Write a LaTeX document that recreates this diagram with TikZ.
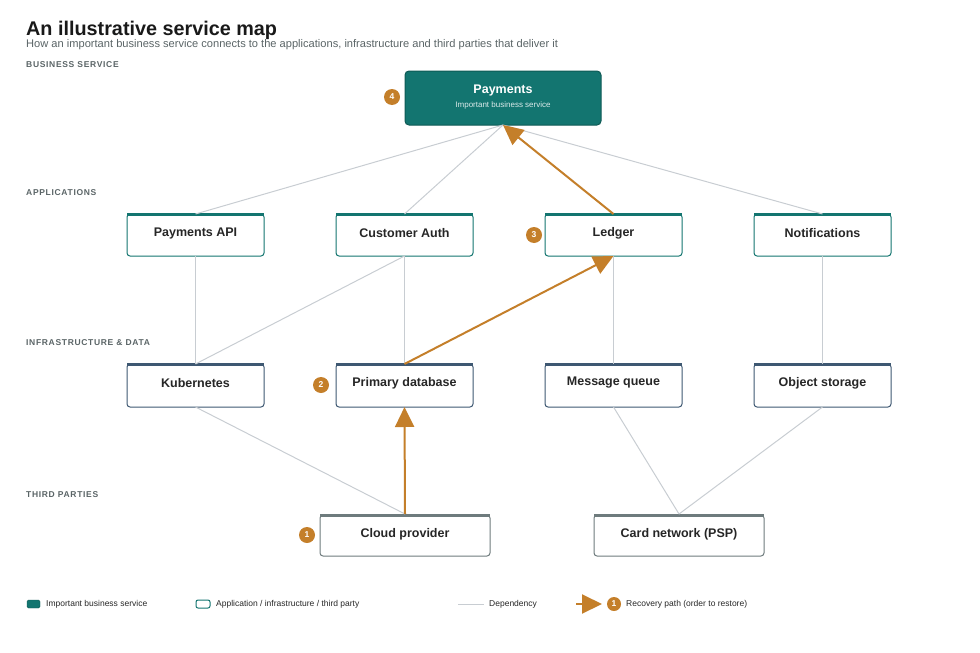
\documentclass[tikz,border=0pt]{standalone}
\usepackage{fontspec}
\setmainfont{Liberation Sans}
\usetikzlibrary{arrows.meta}
\definecolor{teal}{HTML}{137570}
\definecolor{tealdk}{HTML}{0E5A55}
\definecolor{slate}{HTML}{3E5872}
\definecolor{grayb}{HTML}{6E7B7D}
\definecolor{orng}{HTML}{C47F2A}
\definecolor{dep}{HTML}{C8CDD2}
\definecolor{lab}{HTML}{5A6466}
\begin{document}
\begin{tikzpicture}[x=1pt,y=-1pt,
 box/.style={draw=#1,line width=1pt,rounded corners=3pt,fill=white},
 bar/.style={draw=#1,line width=3pt},
 ttl/.style={font=\bfseries\fontsize{12.5}{14}\selectfont,text=black!85},
 sec/.style={anchor=west,inner sep=0pt,font=\bfseries\addfontfeature{LetterSpace=8}\fontsize{8.5}{10}\selectfont,text=lab},
 dep/.style={draw=dep,line width=1pt},
 rec/.style={draw=orng,line width=2pt,-{Triangle[length=20pt,width=19pt]}},
 badge/.style={circle,fill=orng,text=white,inner sep=0pt,minimum size=16pt,font=\bfseries\fontsize{8.5}{9}\selectfont},
 leg/.style={anchor=west,inner sep=0pt,font=\fontsize{8.5}{10}\selectfont,text=black!85}]
\useasboundingbox (0,0) rectangle (980,653);
\node[anchor=west,inner sep=0pt,font=\bfseries\fontsize{19.8}{22}\selectfont,text=black!90] (title) at (26,30) {An illustrative service map};
\node[anchor=west,inner sep=0pt,font=\fontsize{11.1}{13}\selectfont,text=lab] (sub) at (26,45) {How an important business service connects to the applications, infrastructure and third parties that deliver it};
\node[sec] (s1) at (26,65) {BUSINESS SERVICE};
\node[sec] (s2) at (26,193) {APPLICATIONS};
\node[sec] (s3) at (26,343) {INFRASTRUCTURE \& DATA};
\node[sec] (s4) at (26,495) {THIRD PARTIES};
% business
\filldraw[fill=teal,draw=tealdk,line width=1pt,rounded corners=4pt] (405,71) rectangle (601,125);
\node[font=\bfseries\fontsize{12.5}{14}\selectfont,text=white] (pay) at (503,90) {Payments};
\node[font=\fontsize{8}{9}\selectfont,text=white!85!teal] (payl) at (503,105) {Important business service};
\coordinate (payb) at (503,125);
% boxes
\foreach \n/\x/\t in {api/195.5/Payments API,auth/404.5/Customer Auth,led/613.5/Ledger,not/822.5/Notifications}{
 \draw[box=teal] (\x-68.5,214) rectangle (\x+68.5,256);
 \draw[bar=teal] (\x-68.5,214.5) -- (\x+68.5,214.5);
 \node[ttl] (\n) at (\x,233) {\t};
 \coordinate (\n t) at (\x,214); \coordinate (\n b) at (\x,256);}
\foreach \n/\x/\t in {kub/195.5/Kubernetes,db/404.5/Primary database,mq/613.5/Message queue,obj/822.5/Object storage}{
 \draw[box=slate] (\x-68.5,364) rectangle (\x+68.5,407);
 \draw[bar=slate] (\x-68.5,364.5) -- (\x+68.5,364.5);
 \node[ttl] (\n) at (\x,383) {\t};
 \coordinate (\n t) at (\x,364); \coordinate (\n b) at (\x,407);}
\foreach \n/\x/\t in {cld/405/Cloud provider,card/679/Card network (PSP)}{
 \draw[box=grayb] (\x-85,515) rectangle (\x+85,556);
 \draw[bar=grayb] (\x-85,515.5) -- (\x+85,515.5);
 \node[ttl] (\n) at (\x,534) {\t};
 \coordinate (\n t) at (\x,514); \coordinate (\n b) at (\x,556);}
% dependencies
\draw[dep] (payb) -- (apit); \draw[dep] (payb) -- (autht); \draw[dep] (payb) -- (nott);
\draw[dep] (apib) -- (kubt); \draw[dep] (authb) -- (kubt); \draw[dep] (authb) -- (dbt);
\draw[dep] (ledb) -- (mqt); \draw[dep] (notb) -- (objt);
\draw[dep] (kubb) -- (cldt); \draw[dep] (mqb) -- (cardt); \draw[dep] (objb) -- (cardt);
% recovery
\draw[rec] (cldt) -- (dbb);
\draw[rec] (dbt) -- (ledb);
\draw[rec] (ledt) -- (payb);
\node[badge] (b4) at (392,97) {4};
\node[badge] (b3) at (534,235) {3};
\node[badge] (b2) at (321,385) {2};
\node[badge] (b1) at (307,535) {1};
% legend
\filldraw[fill=teal,draw=tealdk,rounded corners=1.5pt] (27,600) rectangle (40,608);
\node[leg] (l1) at (46,604) {Important business service};
\draw[draw=teal,line width=1pt,rounded corners=2pt] (196,600) rectangle (210,608);
\node[leg] (l2) at (216,604) {Application / infrastructure / third party};
\coordinate (d1) at (458,604); \coordinate (d2) at (484,604);
\draw[dep] (d1) -- (d2);
\node[leg] (l3) at (489,604) {Dependency};
\coordinate (r1) at (576,604); \coordinate (r2) at (602,604);
\draw[rec] (r1) -- (r2);
\node[badge,minimum size=14pt] (lb) at (614,604) {1};
\node[leg] (l4) at (626,604) {Recovery path (order to restore)};
\end{tikzpicture}
\end{document}
